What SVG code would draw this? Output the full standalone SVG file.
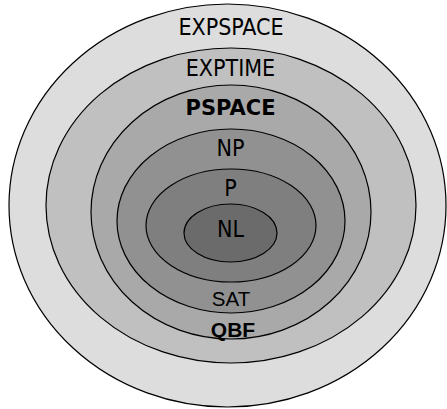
<svg xmlns="http://www.w3.org/2000/svg" width="447" height="409" viewBox="0 0 447 409">
  <style>
    .region { stroke: #000; stroke-width: 1.2; }
    .lbl { font-family: "DejaVu Sans Condensed", "DejaVu Sans", sans-serif; font-stretch: condensed; font-size: 23px; fill: #000; text-anchor: middle; }
    .bold { font-family: "DejaVu Sans", sans-serif; font-weight: bold; font-size: 21px; font-stretch: normal; }
    .ar { font-family: "Liberation Sans", Arial, sans-serif; font-size: 20.5px; font-stretch: normal; }
    .arb { font-family: "Liberation Sans", Arial, sans-serif; font-weight: bold; font-size: 21px; font-stretch: normal; }
  </style>
  <rect width="447" height="409" fill="#fff"/>
  <g id="expspace">
    <ellipse class="region" cx="227.5" cy="205.5" rx="218.5" ry="201.5" fill="#dddddd"/>
    <text class="lbl" x="231" y="35">EXPSPACE</text>
  </g>
  <g id="exptime">
    <ellipse class="region" cx="231" cy="205.5" rx="185" ry="157.5" fill="#c0c0c0"/>
    <text class="lbl" x="230.5" y="76">EXPTIME</text>
  </g>
  <g id="pspace">
    <ellipse class="region" cx="231" cy="212" rx="140" ry="127" fill="#a9a9a9"/>
    <text class="lbl bold" x="230.5" y="115">PSPACE</text>
    <text class="lbl arb" x="233" y="337">QBF</text>
  </g>
  <g id="np">
    <ellipse class="region" cx="231" cy="221" rx="114" ry="92" fill="#919191"/>
    <text class="lbl" x="230.5" y="156">NP</text>
    <text class="lbl ar" x="231" y="306">SAT</text>
  </g>
  <g id="p">
    <ellipse class="region" cx="231" cy="225.5" rx="85" ry="56.5" fill="#7f7f7f"/>
    <text class="lbl" x="230.5" y="196">P</text>
  </g>
  <g id="nl">
    <ellipse class="region" cx="230.5" cy="233" rx="46.5" ry="29" fill="#6b6b6b"/>
    <text class="lbl" x="230.5" y="237">NL</text>
  </g>
  <g id="connectors"/>
</svg>
